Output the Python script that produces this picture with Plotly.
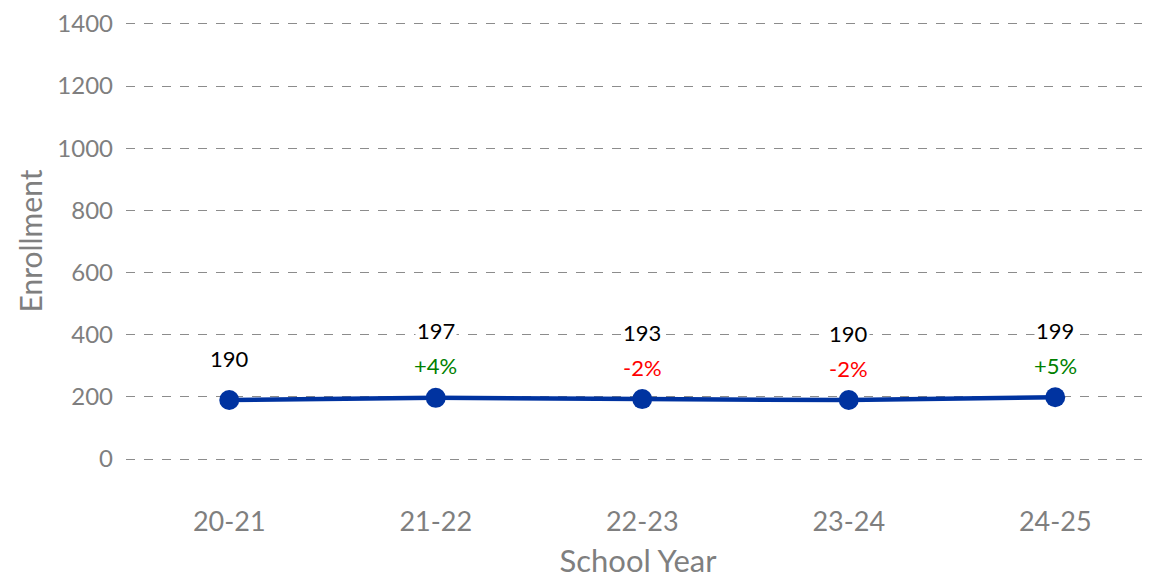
import plotly.graph_objects as go

years = ["20-21", "21-22", "22-23", "23-24", "24-25"]
enrollment = [190, 197, 193, 190, 199]
changes = ["", "+4%", "-2%", "-2%", "+5%"]
y_ticks = [0, 200, 400, 600, 800, 1000, 1200, 1400]

FONT = "Lato, Open Sans, sans-serif"
GRAY = "#7f7f7f"
LINE = "#0033a0"

fig = go.Figure()
fig.add_trace(go.Scatter(
    x=years, y=enrollment, mode="lines+markers",
    line=dict(color=LINE, width=4.5),
    marker=dict(color=LINE, size=20),
    hoverinfo="skip", showlegend=False,
))

for i, (yr, v, c) in enumerate(zip(years, enrollment, changes)):
    if c:
        fig.add_annotation(x=yr, y=v, text=str(v), showarrow=False,
                           yshift=67, bgcolor="white",
                           font=dict(family=FONT, size=22, color="black"))
        color = "#008000" if c.startswith("+") else "#ff0000"
        fig.add_annotation(x=yr, y=v, text=c, showarrow=False,
                           yshift=32, bgcolor="white",
                           font=dict(family=FONT, size=22, color=color))
    else:
        fig.add_annotation(x=yr, y=v, text=str(v), showarrow=False,
                           yshift=42, bgcolor="white",
                           font=dict(family=FONT, size=22, color="black"))

# y-axis title placed as an annotation so it can sit close to the edge
fig.add_annotation(xref="paper", yref="paper", x=0, y=0.5, text="Enrollment",
                   textangle=-90, showarrow=False, xanchor="center",
                   xshift=-97, borderpad=0,
                   font=dict(family=FONT, size=30, color=GRAY))

fig.update_layout(
    width=1142, height=571,
    margin=dict(l=118, r=0, t=8, b=111),
    plot_bgcolor="white", paper_bgcolor="white",
    font=dict(family=FONT, color=GRAY),
    xaxis=dict(
        type="category", range=[-0.5, 4.459],
        showgrid=False, showline=False, zeroline=False,
        tickfont=dict(size=27, color=GRAY), ticks="", ticklabelstandoff=40,
        title=dict(text="School Year", font=dict(size=31, color=GRAY), standoff=20),
    ),
    yaxis=dict(
        range=[-12.6, 1412.6], tickvals=y_ticks,
        showgrid=True, gridcolor="#8c8c8c", griddash="dash", gridwidth=1,
        zeroline=False, showline=False, ticklabeloverflow="allow",
        tickfont=dict(size=24, color=GRAY), ticks="", ticklabelstandoff=12,
    ),
)

fig.write_html("out.html")
